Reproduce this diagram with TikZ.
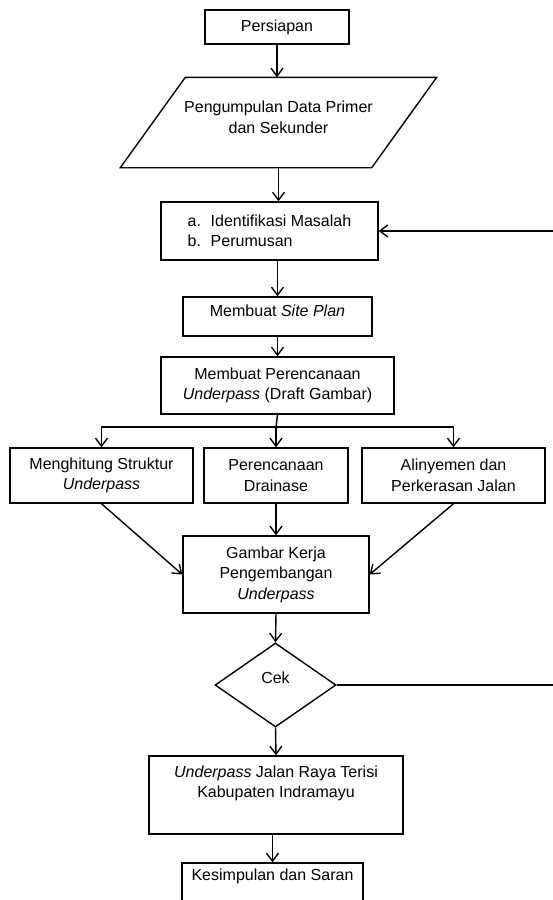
\documentclass[tikz,border=0pt]{standalone}
\usepackage{fontspec}
\setmainfont{Liberation Sans}
\usetikzlibrary{shapes.geometric,arrows.meta}
\begin{document}
\begin{tikzpicture}[x=1pt, y=-1pt, line width=1.4pt,
		font=\fontsize{16}{20.5}\selectfont,
		box/.style={draw, rectangle, align=center, inner sep=0pt},
		arrow/.style={-{Straight Barb[length=8pt,width=12pt]}}]
	\useasboundingbox (0,0) rectangle (553,900);
	\node[box, minimum width=144, minimum height=34] (persiapan) at (277,27) {Persiapan};
	\node[box, draw=none, minimum width=250, minimum height=89] (data) at (278.5,122.5)
		{Pengumpulan Data Primer\\dan Sekunder\\[-10pt]};
	\draw ([xshift=-32.5pt]data.south west) -- ([xshift=32.5pt]data.north west)
		-- ([xshift=32.5pt]data.north east) -- ([xshift=-32.5pt]data.south east) -- cycle;
	\node[box, align=left, minimum width=217, minimum height=58] (masalah) at (269.5,231)
		{\makebox[23pt][l]{a.}Identifikasi Masalah\\\makebox[23pt][l]{b.}Perumusan};
	\node[box, minimum width=189, minimum height=39] (siteplan) at (277.5,316.5)
		{Membuat \textit{Site Plan}\\[-8pt]};
	\node[box, minimum width=233, minimum height=57] (rencana) at (277.5,385.5)
		{Membuat Perencanaan\\\textit{Underpass} (Draft Gambar)};
	\node[box, minimum width=183, minimum height=55] (hitung) at (101.5,475.5)
		{Menghitung Struktur\\\textit{Underpass}};
	\node[box, minimum width=144, minimum height=55] (drainase) at (276,475.5)
		{Perencanaan\\Drainase};
	\node[box, minimum width=183, minimum height=55] (alinyemen) at (453.5,475.5)
		{Alinyemen dan\\Perkerasan Jalan};
	\node[box, minimum width=186, minimum height=77] (gambar) at (276,574.5)
		{Gambar Kerja\\Pengembangan\\\textit{Underpass}};
	\node[draw, diamond, aspect=1.44, minimum width=121, minimum height=84, inner sep=0pt, align=center]
		(cek) at (275.5,685) {Cek\\[-6pt]};
	\node[box, minimum width=254, minimum height=78] (hasil) at (276,795)
		{\textit{Underpass} Jalan Raya Terisi\\Kabupaten Indramayu\\\strut};
	\node[box, minimum width=181, minimum height=50] (kesimpulan) at (272.5,888)
		{Kesimpulan dan Saran\\\strut};
	\coordinate (split) at (276,427);
	\coordinate (balik) at (557,685);

	\draw[arrow] (persiapan.south) -- (persiapan.south |- data.north);
	\draw[arrow] (data.south) -- (data.south |- masalah.north);
	\draw[arrow] (masalah.south -| siteplan.north) -- (siteplan.north);
	\draw[arrow] (siteplan.south) -- (rencana.north);
	\draw (rencana.south) -- (split);
	\draw[arrow] (split) -| (hitung.north);
	\draw[arrow] (split) -- (drainase.north);
	\draw[arrow] (split) -| (alinyemen.north);
	\draw[arrow] (hitung.south) -- (gambar.west);
	\draw[arrow] (drainase.south) -- (gambar.north);
	\draw[arrow] (alinyemen.south) -- (gambar.east);
	\draw[arrow] (gambar.south) -- (cek.north);
	\draw[arrow] (cek.south) -- (hasil.north);
	\draw[arrow] (hasil.south -| kesimpulan.north) -- (kesimpulan.north);
	\draw[arrow] (cek.east) -- (balik) |- (masalah.east);
\end{tikzpicture}
\end{document}
